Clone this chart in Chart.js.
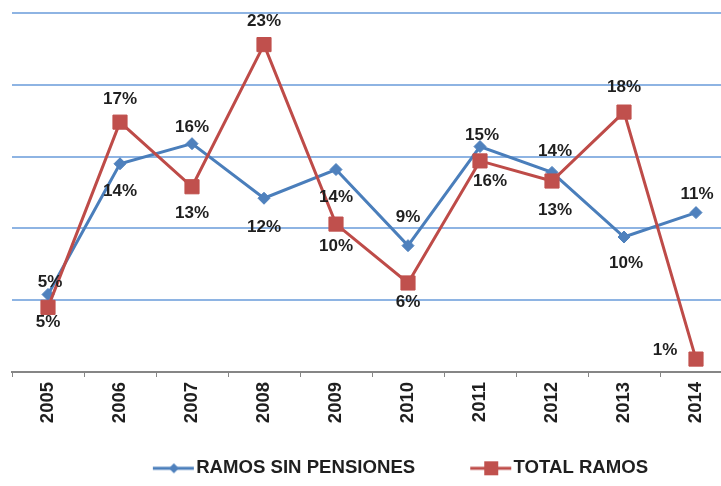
<!DOCTYPE html>
<html>
<head>
<meta charset="utf-8">
<script src="https://cdn.jsdelivr.net/npm/chart.js@4.4.1/dist/chart.umd.min.js"></script>
<style>
html, body { margin: 0; padding: 0; background: #fff; overflow: hidden; }
#wrap { width: 756px; height: 486px; }
</style>
</head>
<body>
<div id="wrap"><canvas id="chart" width="756" height="486"></canvas></div>
<script>
const years = ['2005', '2006', '2007', '2008', '2009', '2010', '2011', '2012', '2013', '2014'];
const sinPensiones = [5.4, 14.5, 15.9, 12.1, 14.1, 8.8, 15.7, 13.9, 9.4, 11.1];
const totalRamos = [4.5, 17.4, 12.9, 22.8, 10.3, 6.2, 14.7, 13.3, 18.1, 0.9];
const sinPensionesText = ['5%', '14%', '16%', '12%', '14%', '9%', '15%', '14%', '10%', '11%'];
const totalRamosText = ['5%', '17%', '13%', '23%', '10%', '6%', '16%', '13%', '18%', '1%'];
const yMin = 0, yMax = 25, yStep = 5;

const BLUE = '#4a7ebb', BLUE_FILL = '#4f81bd';
const RED = '#be4b48', RED_FILL = '#c0504d';
const FONT = '"Liberation Sans", Arial, sans-serif';

// legend icon: line with marker in the middle, like the office charts
const BOX = 79;
function legendIcon(color, fill, kind) {
    const c = document.createElement('canvas');
    c.width = BOX + 16;
    c.height = 16;
    const g = c.getContext('2d');
    const x0 = c.width - 42, x1 = c.width - 1, mx = c.width - 21;
    g.strokeStyle = color;
    g.lineWidth = 3;
    g.beginPath();
    g.moveTo(x0, 8);
    g.lineTo(x1, 8);
    g.stroke();
    g.fillStyle = fill;
    if (kind === 'diamond') {
        g.beginPath();
        g.moveTo(mx, 3); g.lineTo(mx + 5, 8); g.lineTo(mx, 13); g.lineTo(mx - 5, 8);
        g.closePath();
        g.fill();
    } else {
        g.fillRect(mx - 7, 1, 14, 14);
    }
    return c;
}
const icons = [legendIcon(BLUE, BLUE_FILL, 'diamond'), legendIcon(RED, RED_FILL, 'square')];

const pointLabels = {
    id: 'pointLabels',
    afterDatasetsDraw(chart, args, opts) {
        const ctx = chart.ctx;
        ctx.save();
        ctx.font = opts.font;
        ctx.fillStyle = opts.color;
        ctx.textAlign = 'center';
        ctx.textBaseline = 'middle';
        chart.data.datasets.forEach((ds, di) => {
            const meta = chart.getDatasetMeta(di);
            meta.data.forEach((pt, i) => {
                const off = opts.offsets[di][i];
                ctx.fillText(ds.valueText[i], pt.x + off[0], pt.y + off[1]);
            });
        });
        ctx.restore();
    }
};

new Chart(document.getElementById('chart'), {
    type: 'line',
    data: {
        labels: years,
        datasets: [{
            label: 'RAMOS SIN PENSIONES',
            data: sinPensiones,
            valueText: sinPensionesText,
            borderColor: BLUE,
            backgroundColor: BLUE_FILL,
            borderWidth: 3,
            pointStyle: 'rectRot',
            pointRadius: 6,
            pointBorderWidth: 1,
            pointBorderColor: BLUE_FILL,
            tension: 0,
            order: 1
        }, {
            label: 'TOTAL RAMOS',
            data: totalRamos,
            valueText: totalRamosText,
            borderColor: RED,
            backgroundColor: RED_FILL,
            borderWidth: 3,
            pointStyle: 'rect',
            pointRadius: 10,
            pointBorderWidth: 1,
            pointBorderColor: RED_FILL,
            tension: 0,
            order: 0
        }]
    },
    options: {
        responsive: false,
        animation: false,
        layout: { padding: { left: 12, right: 12, top: 13, bottom: 0 } },
        scales: {
            x: {
                offset: true,
                grid: {
                    offset: true,
                    drawOnChartArea: false,
                    color: '#868686',
                    tickLength: 5,
                    lineWidth: 1
                },
                border: { color: '#868686', width: 2 },
                ticks: {
                    autoSkip: false,
                    minRotation: 90,
                    maxRotation: 90,
                    padding: 5,
                    color: '#1f1f1f',
                    font: { family: FONT, size: 18.5, weight: 'bold' }
                },
                afterFit: (s) => { s.height = 77; }
            },
            y: {
                position: 'right',
                min: yMin,
                max: yMax,
                ticks: { display: false, stepSize: yStep },
                border: { display: false },
                grid: { color: '#8eb4e3', lineWidth: 2, drawTicks: false },
                afterFit: (s) => { s.width = 12; }
            }
        },
        plugins: {
            tooltip: { enabled: false },
            legend: {
                position: 'bottom',
                maxHeight: 37,
                labels: {
                    usePointStyle: true,
                    pointStyleWidth: BOX,
                    padding: 10,
                    color: '#1f1f1f',
                    font: { family: FONT, size: 18.6, weight: 'bold' },
                    generateLabels: (chart) => {
                        const items = Chart.defaults.plugins.legend.labels.generateLabels(chart);
                        items.forEach(it => { it.pointStyle = icons[it.datasetIndex]; });
                        return items;
                    },
                    sort: (a, b) => a.datasetIndex - b.datasetIndex
                }
            },
            pointLabels: {
                font: 'bold 17px ' + FONT,
                color: '#1f1f1f',
                offsets: [
                    [[2, -12], [0, 28], [0, -16], [0, 29], [0, 28], [0, -28], [2, -11], [3, -21], [2, 26], [1, -18]],
                    [[0, 15], [0, -23], [0, 27], [0, -23], [0, 22], [0, 19], [10, 20], [3, 29], [0, -25], [-31, -9]]
                ]
            }
        }
    },
    plugins: [pointLabels]
});
</script>
</body>
</html>
